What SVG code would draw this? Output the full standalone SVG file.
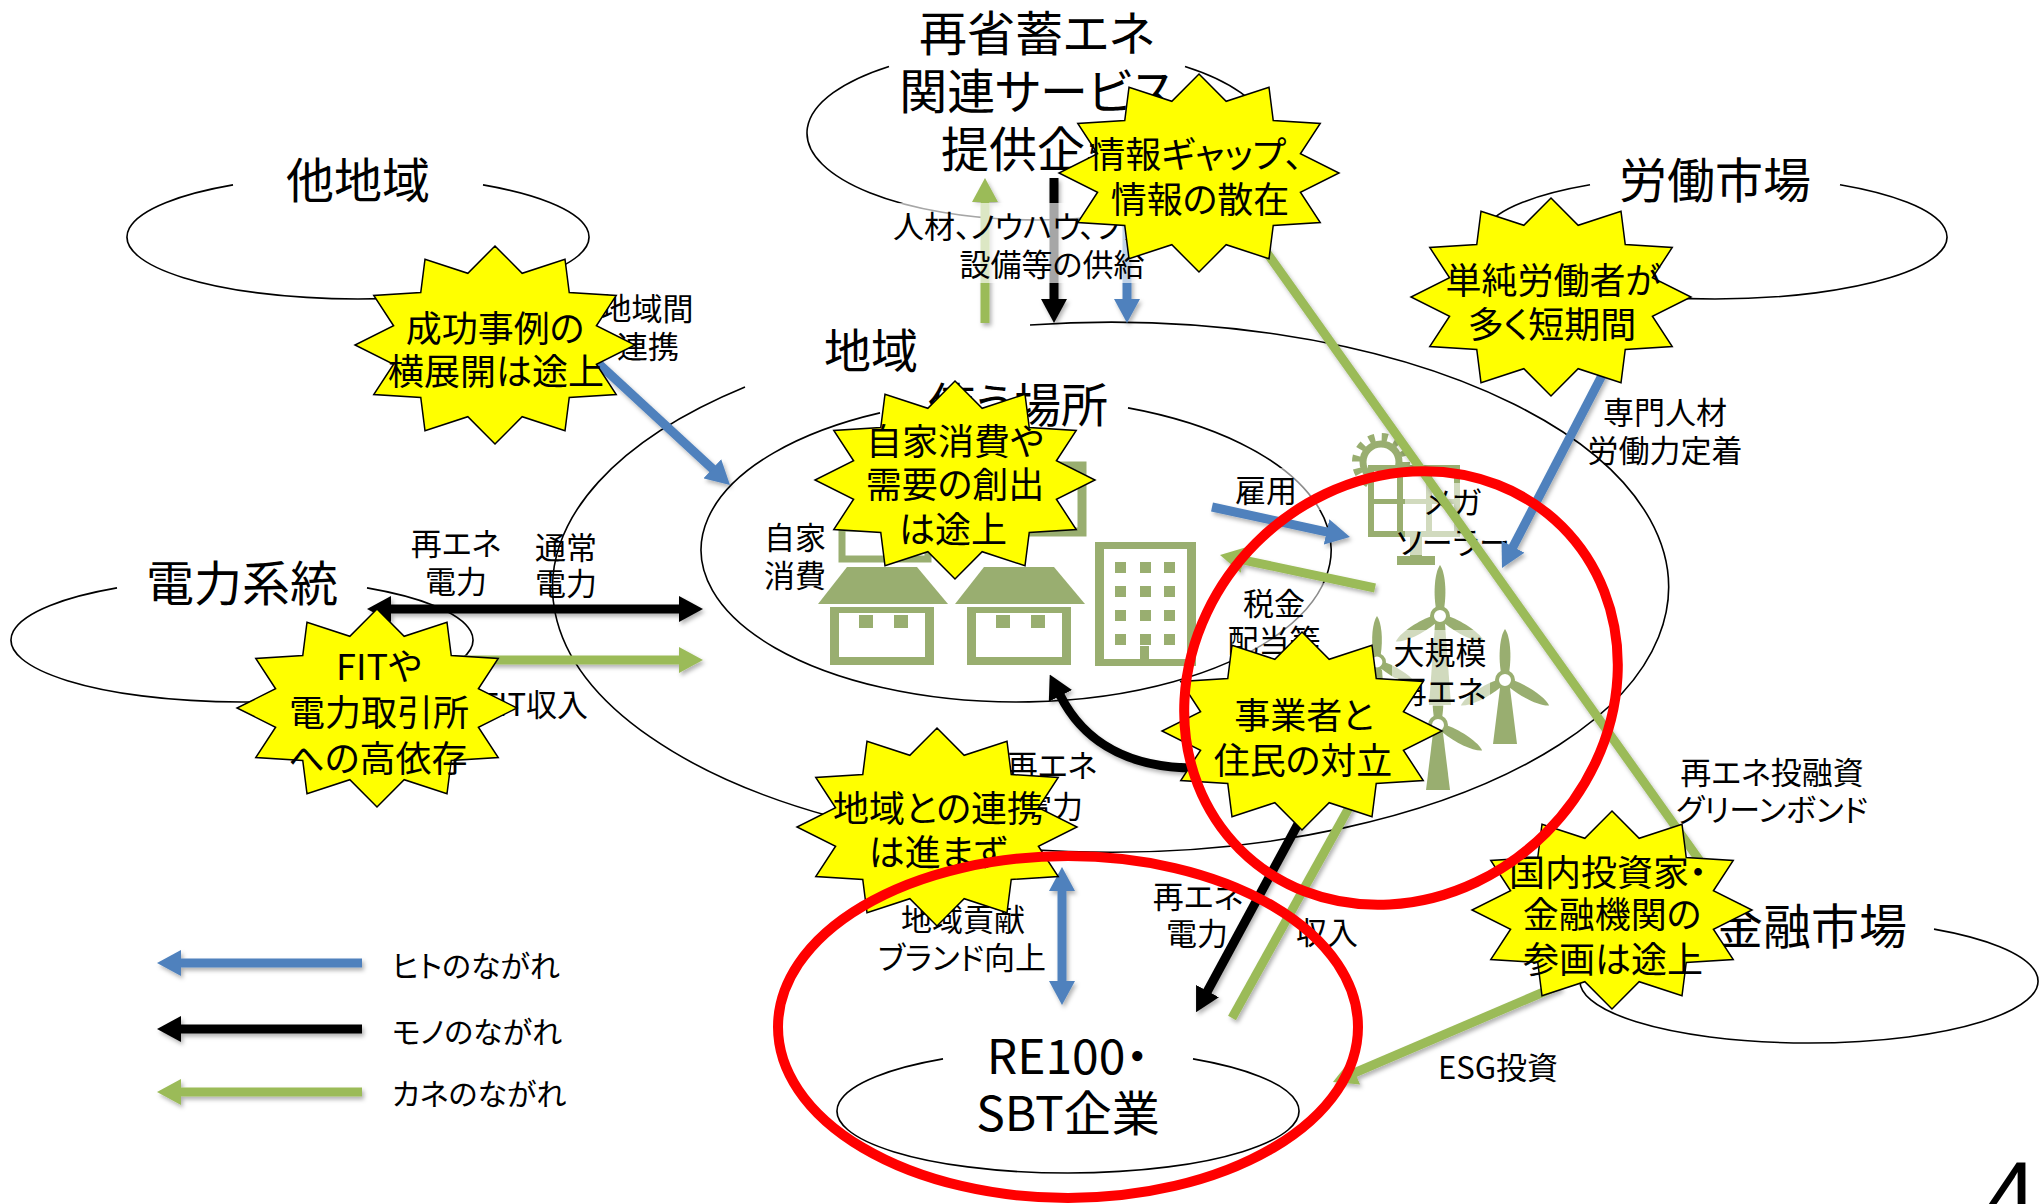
<svg xmlns="http://www.w3.org/2000/svg" width="2039" height="1204" viewBox="0 0 2039 1204">
<defs>
  <style>
    text { font-family: "Noto Sans CJK JP", "Noto Sans", sans-serif; font-feature-settings: "palt"; fill: #000; dominant-baseline: central; text-anchor: middle; }
    .title { font-size: 48px; }
    .sub { font-size: 47px; }
    .bt { font-size: 36px; }
    .lbl { font-size: 31px; }
    .lg { font-size: 30px; text-anchor: start; }
    .ring { fill: none; stroke: #000; stroke-width: 1.6; }
    .burst { fill: #FFFF00; stroke: #000; stroke-width: 1.5; vector-effect: non-scaling-stroke; }
    .arr { fill: none; stroke-width: 9; filter: url(#shadow); }
    .blue { stroke: #4F81BD; }
    .black { stroke: #000; }
    .green { stroke: #9BBB59; }
    .mb { marker-end: url(#hb); }
    .mk { marker-end: url(#hk); }
    .mg { marker-end: url(#hg); }
    .icon { fill: #99AE70; }
    .icon-line { fill: none; stroke: #99AE70; }
    .veil { fill: #fff; opacity: .55; }
    .red { fill: none; stroke: #FF0000; stroke-width: 10; }
  </style>
  <filter id="shadow" filterUnits="userSpaceOnUse" x="0" y="0" width="2039" height="1204">
    <feDropShadow dx="2" dy="3" stdDeviation="2" flood-color="#000" flood-opacity="0.3"/>
  </filter>
  <marker id="hb" markerUnits="userSpaceOnUse" viewBox="0 0 24 26" markerWidth="24" markerHeight="26" refX="1" refY="13" orient="auto-start-reverse"><path d="M0,0 L24,13 L0,26 z" fill="#4F81BD"/></marker>
  <marker id="hk" markerUnits="userSpaceOnUse" viewBox="0 0 24 26" markerWidth="24" markerHeight="26" refX="1" refY="13" orient="auto-start-reverse"><path d="M0,0 L24,13 L0,26 z" fill="#000"/></marker>
  <marker id="hg" markerUnits="userSpaceOnUse" viewBox="0 0 24 26" markerWidth="24" markerHeight="26" refX="1" refY="13" orient="auto-start-reverse"><path d="M0,0 L24,13 L0,26 z" fill="#9BBB59"/></marker>
  <!-- 12-point star, radius 100, inner radius 75 -->
  <polygon id="star12" class="burst" points="0,-100 19.41,-72.44 50,-86.6 53.03,-53.03 86.6,-50 72.44,-19.41 100,0 72.44,19.41 86.6,50 53.03,53.03 50,86.6 19.41,72.44 0,100 -19.41,72.44 -50,86.6 -53.03,53.03 -86.6,50 -72.44,19.41 -100,0 -72.44,-19.41 -86.6,-50 -53.03,-53.03 -50,-86.6 -19.41,-72.44"/>
  <!-- wind turbine rotor -->
  <g id="rotor">
    <path class="icon" d="M-4,-7 C-7,-25 -5,-44 0,-51 C5,-44 7,-25 4,-7 Z"/>
    <path class="icon" d="M-4,-7 C-7,-25 -5,-44 0,-51 C5,-44 7,-25 4,-7 Z" transform="rotate(120)"/>
    <path class="icon" d="M-4,-7 C-7,-25 -5,-44 0,-51 C5,-44 7,-25 4,-7 Z" transform="rotate(240)"/>
    <circle r="8" fill="#fff" stroke="#99AE70" stroke-width="4"/>
  </g>
</defs>

<rect x="0" y="0" width="2039" height="1204" fill="#fff"/>

<!-- area nodes: open-topped ellipses with their titles -->
<g id="node-region">
  <path class="ring" d="M1030 325 A558 265 0 1 1 745 387"/>
  <text class="sub" x="871" y="347">地域</text>
</g>
<g id="node-usage">
  <path class="ring" d="M1128 407.9 A315 152 0 1 1 880 412.9"/>
  <text class="sub" x="1018" y="401">使う場所</text>
</g>
<g id="node-services">
  <path class="ring" d="M1185 66.4 A230 87 0 1 1 889 66.4"/>
  <text class="title" x="1037" y="30">再省蓄エネ</text>
  <text class="title" x="1037" y="88">関連サービス</text>
  <text class="title" x="1037" y="146">提供企業</text>
</g>
<g id="node-other-regions">
  <path class="ring" d="M483 184.9 A231 62 0 1 1 233 184.9"/>
  <text class="title" x="358" y="177">他地域</text>
</g>
<g id="node-labor">
  <path class="ring" d="M1840 184.8 A232 62 0 1 1 1590 184.8"/>
  <text class="title" x="1715" y="177">労働市場</text>
</g>
<g id="node-grid">
  <path class="ring" d="M367 587.9 A231 62 0 1 1 117 587.9"/>
  <text class="title" x="242" y="580">電力系統</text>
</g>
<g id="node-finance">
  <path class="ring" d="M1934 929.1 A229 62 0 1 1 1684 929.1"/>
  <text class="title" x="1811" y="923">金融市場</text>
</g>
<g id="node-re100">
  <path class="ring" d="M1193 1058.9 A231 62 0 1 1 943 1058.9"/>
  <text class="title" x="1068" y="1053">RE100・</text>
  <text class="title" x="1068" y="1110">SBT企業</text>
</g>

<!-- pictograms inside the region -->
<g id="icons">
  <!-- partly hidden shop and building -->
  <rect class="icon-line" x="842" y="528" width="86" height="31" stroke-width="7"/>
  <rect class="icon-line" x="1030" y="466" width="52" height="66" stroke-width="9"/>
  <!-- house 1 -->
  <polygon class="icon" points="847,567 917,567 948,604 818,604"/>
  <path class="icon" fill-rule="evenodd" d="M830 607 H934 V665 H830 Z M839 613 H925 V657 H839 Z"/>
  <rect class="icon" x="859" y="615" width="14" height="13"/>
  <rect class="icon" x="894" y="615" width="14" height="13"/>
  <!-- house 2 -->
  <polygon class="icon" points="984,567 1054,567 1085,604 955,604"/>
  <path class="icon" fill-rule="evenodd" d="M967 607 H1071 V665 H967 Z M976 613 H1062 V657 H976 Z"/>
  <rect class="icon" x="996" y="615" width="14" height="13"/>
  <rect class="icon" x="1031" y="615" width="14" height="13"/>
  <!-- office building -->
  <path class="icon" fill-rule="evenodd" d="M1095 542 H1196 V666 H1095 Z M1104 549 H1187 V659 H1104 Z"/>
  <g class="icon">
    <rect x="1115" y="562" width="11" height="11"/><rect x="1140" y="562" width="11" height="11"/><rect x="1164" y="562" width="11" height="11"/>
    <rect x="1115" y="586" width="11" height="11"/><rect x="1140" y="586" width="11" height="11"/><rect x="1164" y="586" width="11" height="11"/>
    <rect x="1115" y="610" width="11" height="11"/><rect x="1140" y="610" width="11" height="11"/><rect x="1164" y="610" width="11" height="11"/>
    <rect x="1115" y="634" width="11" height="11"/><rect x="1140" y="634" width="11" height="11"/><rect x="1164" y="634" width="11" height="11"/>
    <rect x="1140" y="646" width="9" height="14"/>
  </g>
  <!-- mega solar: sun gear, panel, stand -->
  <circle class="icon-line" cx="1381" cy="462" r="25" stroke-width="8" stroke-dasharray="6 7.09"/>
  <circle class="icon-line" cx="1381" cy="462" r="18" stroke-width="7"/>
  <rect class="icon" x="1368" y="465" width="92" height="72"/>
  <g fill="#fff">
    <rect x="1374" y="471" width="23" height="28"/><rect x="1403" y="471" width="23" height="28"/><rect x="1432" y="471" width="22" height="28"/>
    <rect x="1374" y="504" width="23" height="27"/><rect x="1403" y="504" width="23" height="27"/><rect x="1432" y="504" width="22" height="27"/>
  </g>
  <rect class="icon" x="1410" y="537" width="12" height="20"/>
  <rect class="icon" x="1397" y="556" width="38" height="9"/>
  <!-- wind turbines -->
  <polygon class="icon" points="1435,624 1445,624 1451,705 1429,705"/>
  <use href="#rotor" transform="translate(1440 616)"/>
  <polygon class="icon" points="1372,670 1382,670 1388,745 1366,745"/>
  <use href="#rotor" transform="translate(1377 662) scale(0.9)"/>
  <polygon class="icon" points="1500,688 1510,688 1517,744 1493,744"/>
  <use href="#rotor" transform="translate(1505 680)"/>
  <polygon class="icon" points="1433,733 1443,733 1450,790 1426,790"/>
  <use href="#rotor" transform="translate(1438 725)"/>
</g>

<!-- labels with soft white backing inside the region -->
<g id="inner-labels">
  <rect class="veil" x="1226" y="468" width="106" height="42"/>
  <rect class="veil" x="1224" y="583" width="106" height="72"/>
  <rect class="veil" x="1405" y="483" width="97" height="72"/>
  <rect class="veil" x="1392" y="630" width="98" height="76"/>
  <text class="lbl" x="1266" y="488">雇用</text>
  <text class="lbl" x="1274" y="601">税金</text>
  <text class="lbl" x="1274" y="638">配当等</text>
  <text class="lbl" x="1453" y="500">メガ</text>
  <text class="lbl" x="1453" y="540">ソーラー</text>
  <text class="lbl" x="1440" y="650">大規模</text>
  <text class="lbl" x="1441" y="689">再エネ</text>
</g>

<!-- flows between the areas -->
<g id="connectors">
  <path class="arr blue mb" d="M560 328 L713.1 469.4"/>
  <path class="arr black mk" d="M390 609 H680" marker-start="url(#hk)"/>
  <path class="arr green mg" d="M455 660 H680"/>
  <path class="arr green mg" d="M985 323 V201"/>
  <path class="arr black mk" d="M1054 178 V300"/>
  <path class="arr blue mb" d="M1127 195 V300"/>
  <path class="arr black mk" d="M1195 768 C1120 768 1080 735 1060 695"/>
  <path class="arr blue mb" d="M1212 507 L1327.5 532.1"/>
  <path class="arr green mg" d="M1375 588 L1242.5 559.8"/>
  <path class="arr blue mb" d="M1610 360 L1512.6 547.6"/>
  <path class="arr green" d="M1240 215 L1705 868"/>
  <path class="arr green mg" d="M1560 985 L1354.1 1073"/>
  <path class="arr black mk" d="M1311 800 L1207 992"/>
  <path class="arr green" d="M1232 1018 L1356 795"/>
  <path class="arr blue mb" d="M1062 890 V982" marker-start="url(#hb)"/>
</g>

<!-- flow labels -->
<g id="flow-labels">
  <rect fill="#fff" opacity=".65" x="885" y="203" width="330" height="80"/>
  <text class="lbl" x="893" y="224" style="text-anchor:start">人材、ノウハウ、ファイナンス</text>
  <text class="lbl" x="1052" y="262">設備等の供給</text>
  <text class="lbl" x="647" y="306">地域間</text>
  <text class="lbl" x="648" y="344">連携</text>
  <text class="lbl" x="456" y="541">再エネ</text>
  <text class="lbl" x="456" y="579">電力</text>
  <text class="lbl" x="566" y="545">通常</text>
  <text class="lbl" x="566" y="581">電力</text>
  <text class="lbl" x="588" y="702" style="text-anchor:end">FIT収入</text>
  <text class="lbl" x="795" y="535">自家</text>
  <text class="lbl" x="795" y="573">消費</text>
  <text class="lbl" x="1665" y="410">専門人材</text>
  <text class="lbl" x="1665" y="448">労働力定着</text>
  <text class="lbl" x="1052" y="763">再エネ</text>
  <text class="lbl" x="1052" y="804">電力</text>
  <text class="lbl" x="1772" y="770">再エネ投融資</text>
  <text class="lbl" x="1772" y="807">グリーンボンド</text>
  <text class="lbl" x="963" y="917">地域貢献</text>
  <text class="lbl" x="962" y="955">ブランド向上</text>
  <text class="lbl" x="1198" y="894">再エネ</text>
  <text class="lbl" x="1197" y="931">電力</text>
  <text class="lbl" x="1327" y="930">収入</text>
  <text class="lbl" x="1498" y="1065">ESG投資</text>
</g>

<!-- issue call-outs -->
<g id="burst-info-gap">
  <use href="#star12" transform="translate(1199 173) scale(1.4 0.99)"/>
  <text class="bt" x="1196" y="152">情報ギャップ、</text>
  <text class="bt" x="1200" y="197">情報の散在</text>
</g>
<g id="burst-success-cases">
  <use href="#star12" transform="translate(495 345) scale(1.4 0.99)"/>
  <text class="bt" x="495" y="326">成功事例の</text>
  <text class="bt" x="496" y="369">横展開は途上</text>
</g>
<g id="burst-labor">
  <use href="#star12" transform="translate(1551 297) scale(1.4 0.99)"/>
  <text class="bt" x="1553" y="278">単純労働者が</text>
  <text class="bt" x="1552" y="322">多く短期間</text>
</g>
<g id="burst-self-consumption">
  <use href="#star12" transform="translate(955 480) scale(1.4 0.99)"/>
  <text class="bt" x="955" y="439">自家消費や</text>
  <text class="bt" x="955" y="482">需要の創出</text>
  <text class="bt" x="953" y="527">は途上</text>
</g>
<g id="burst-fit">
  <use href="#star12" transform="translate(377 708) scale(1.4 0.99)"/>
  <text class="bt" x="379" y="664">FITや</text>
  <text class="bt" x="379" y="710">電力取引所</text>
  <text class="bt" x="378" y="756">への高依存</text>
</g>
<g id="burst-conflict">
  <use href="#star12" transform="translate(1302 731) scale(1.4 0.99)"/>
  <text class="bt" x="1304" y="713">事業者と</text>
  <text class="bt" x="1303" y="758">住民の対立</text>
</g>
<g id="burst-local-link">
  <use href="#star12" transform="translate(937 827) scale(1.4 0.99)"/>
  <text class="bt" x="938" y="806">地域との連携</text>
  <text class="bt" x="938" y="850">は進まず</text>
</g>
<g id="burst-investors">
  <use href="#star12" transform="translate(1612 910) scale(1.4 0.99)"/>
  <text class="bt" x="1608" y="870">国内投資家・</text>
  <text class="bt" x="1612" y="912">金融機関の</text>
  <text class="bt" x="1613" y="957">参画は途上</text>
</g>

<!-- highlighted areas -->
<g id="highlights">
  <ellipse class="red" cx="1401" cy="688" rx="228" ry="205" transform="rotate(-45 1401 688)"/>
  <ellipse class="red" cx="1068" cy="1027" rx="290" ry="171"/>
</g>

<!-- legend -->
<g id="legend">
  <path class="arr blue mb" d="M362 963 H180"/>
  <path class="arr black mk" d="M362 1029 H180"/>
  <path class="arr green mg" d="M362 1092 H180"/>
  <text class="lg" x="392" y="964">ヒトのながれ</text>
  <text class="lg" x="392" y="1030">モノのながれ</text>
  <text class="lg" x="392" y="1092">カネのながれ</text>
</g>

<text x="1985" y="1228" style="font-family:'Liberation Sans',sans-serif;font-size:94px;text-anchor:start;dominant-baseline:alphabetic">4</text>
</svg>
